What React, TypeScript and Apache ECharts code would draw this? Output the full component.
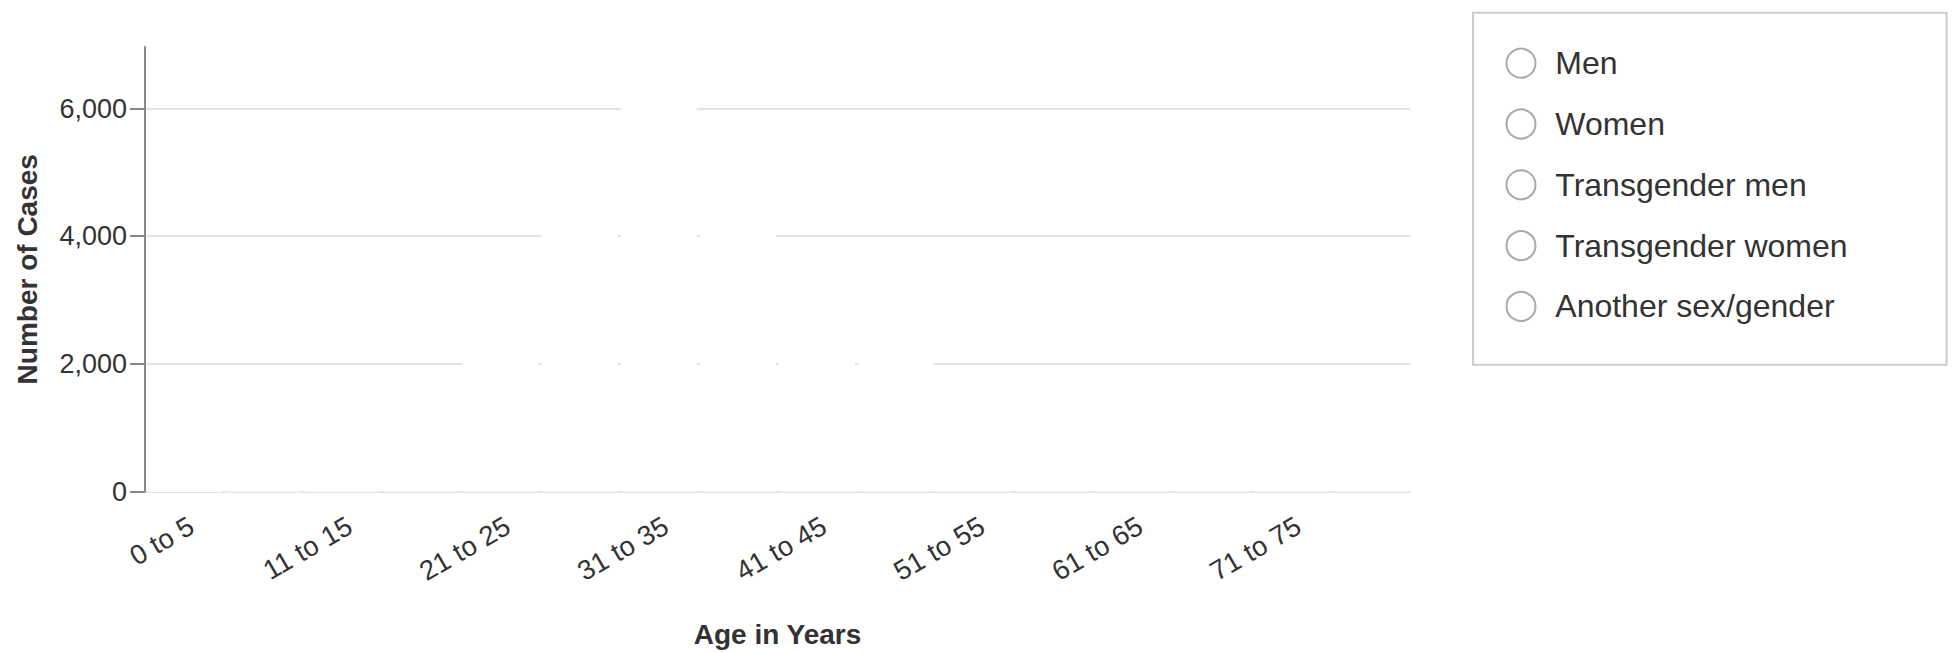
import React, { useEffect, useRef } from "react";
import * as echarts from "echarts";

const categories = [
  "0 to 5", "6 to 10", "11 to 15", "16 to 20", "21 to 25", "26 to 30", "31 to 35", "36 to 40",
  "41 to 45", "46 to 50", "51 to 55", "56 to 60", "61 to 65", "66 to 70", "71 to 75", "76 to 80",
];

const seriesNames = ["Men", "Women", "Transgender men", "Transgender women", "Another sex/gender"];

const men = [12, 8, 20, 300, 2900, 4950, 6710, 4900, 3350, 2240, 1320, 700, 305, 100, 36, 8];
const women = [14, 0, 34, 50, 70, 90, 100, 90, 70, 55, 45, 30, 15, 6, 2, 0];
const transgenderMen = [0, 0, 2, 6, 12, 16, 20, 14, 8, 5, 3, 2, 1, 0, 0, 0];
const transgenderWomen = [0, 0, 2, 18, 50, 70, 95, 70, 52, 35, 22, 12, 6, 3, 1, 0];
const anotherSexGender = [4, 0, 2, 6, 18, 24, 40, 26, 20, 15, 10, 6, 3, 1, 1, 0];

const yTickValues = [0, 2000, 4000, 6000];

const FONT = "'Liberation Sans', Arial, Helvetica, sans-serif";

export default function App() {
  const ref = useRef<HTMLDivElement>(null);

  useEffect(() => {
    if (!ref.current) return;
    const chart = echarts.init(ref.current, undefined, { renderer: "svg" });
    const allSeries = [men, women, transgenderMen, transgenderWomen, anotherSexGender];
    const totals = categories.map((_, i) => allSeries.reduce((s, arr) => s + arr[i], 0));
    const yMax = Math.max(...totals);

    const series = allSeries.map((arr, si) => ({
      name: seriesNames[si],
      type: "bar",
      stack: "total",
      barWidth: 76,
      itemStyle: { color: "#ffffff", borderColor: "#ffffff", borderWidth: 2 },
      emphasis: { disabled: true },
      data: arr.map((v, i) =>
        v === 0
          ? "-"
          : totals[i] < 20
          ? { value: v, itemStyle: { opacity: 0.5 } }
          : v
      ),
    }));

    chart.setOption({
      animation: false,
      textStyle: { fontFamily: FONT },
      grid: { left: 145, right: 543, top: 47, bottom: 156, containLabel: false },
      legend: {
        orient: "vertical",
        left: 1473,
        top: 12.7,
        padding: [34.5, 99, 42.3, 32.5],
        borderColor: "#cccccc",
        borderWidth: 2,
        itemWidth: 58.6,
        itemHeight: 29,
        itemGap: 28.8,
        icon: "circle",
        itemStyle: { color: "#ffffff", borderColor: "#a9a9a9", borderWidth: 2 },
        textStyle: { fontSize: 32, color: "#333333", fontFamily: FONT, lineHeight: 29 },
        data: seriesNames,
      },
      xAxis: {
        type: "category",
        data: categories,
        name: "Age in Years",
        nameLocation: "middle",
        nameGap: 128.5,
        nameTextStyle: { fontSize: 28, fontWeight: "bold", color: "#333333", fontFamily: FONT },
        axisLine: { show: false },
        axisTick: { show: false },
        splitLine: { show: false },
        axisLabel: {
          interval: 1,
          rotate: 30,
          fontSize: 27.5,
          color: "#333333",
          fontFamily: FONT,
          margin: 20,
          verticalAlign: "top",
        },
      },
      yAxis: {
        type: "value",
        min: 0,
        max: yMax,
        name: "Number of Cases",
        nameLocation: "middle",
        nameRotate: 90,
        nameGap: 104,
        nameTextStyle: { fontSize: 28, fontWeight: "bold", color: "#333333", fontFamily: FONT },
        axisLine: { show: true, lineStyle: { color: "#888888", width: 2 } },
        axisTick: {
          show: true,
          length: 15,
          customValues: yTickValues,
          lineStyle: { color: "#888888", width: 2 },
        },
        axisLabel: {
          customValues: yTickValues,
          fontSize: 27,
          color: "#333333",
          fontFamily: FONT,
          margin: 18,
        },
        splitLine: { show: true, lineStyle: { color: "#e3e3e3", width: 2 } },
      },
      series,
    });

    return () => chart.dispose();
  }, []);

  return (
    <div
      ref={ref}
      style={{ position: "fixed", left: 0, top: 0, width: 1953, height: 653, background: "#ffffff" }}
    />
  );
}
